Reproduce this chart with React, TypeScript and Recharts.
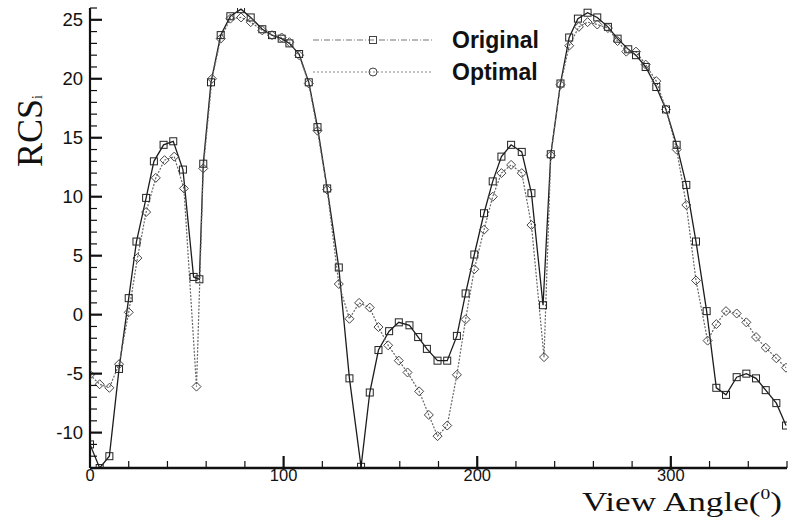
import { LineChart, Line, XAxis, YAxis, Legend, Label } from 'recharts'

// RCS vs view angle
const originalAngle = [
  0, 5, 10, 15, 20, 24, 29, 33, 38, 43, 48, 53.5, 56.5, 58.5, 62.5, 67.5, 72.5, 78, 83, 89,
  94, 99, 103, 108, 113, 117.5, 122.5, 128.5, 134, 140, 144.5, 149, 154.5, 159.5, 165, 169.5, 174, 179.5, 184.5, 189.5,
  194, 198.5, 203.5, 208, 212.5, 217.5, 223, 228, 234, 238, 243, 247.5, 252, 257, 262, 267.5, 272.5, 278, 282, 287,
  292.5, 297.5, 303, 308, 313, 318.5, 323.5, 328.5, 334, 339, 344, 349, 354.5, 359.5,
]
const originalRcs = [
  -11, -13, -12, -4.6, 1.4, 6.2, 9.9, 13, 14.4, 14.7, 12.3, 3.2, 3.0, 12.8, 19.7, 23.7, 25.3, 25.9, 25.2, 24.2,
  23.7, 23.4, 23.0, 22.1, 19.7, 15.9, 10.7, 4.0, -5.4, -12.9, -6.6, -3.0, -1.4, -0.65, -0.9, -1.9, -2.9, -3.9, -3.9, -1.8,
  1.8, 5.1, 8.6, 11.3, 13.4, 14.4, 13.8, 10.3, 0.8, 13.6, 19.6, 23.5, 25.1, 25.6, 25.2, 24.4, 23.4, 22.5, 22.0, 21.0,
  19.3, 17.4, 14.4, 11.0, 6.2, 0.3, -6.2, -6.8, -5.3, -5.0, -5.4, -6.4, -7.5, -9.4,
]

const optimalAngle = [
  0, 5, 10, 15, 20, 24.5, 29, 34, 38.5, 43.5, 48.5, 55, 58.5, 63, 67.5, 72.5, 78, 83, 89, 94,
  99, 103, 108, 113, 117.5, 122.5, 128.5, 134, 139, 144.5, 149, 154, 159.5, 164, 170, 175, 179.5, 184.5, 189.5, 194,
  198.5, 203.5, 208, 212.5, 217.5, 223, 228, 234.5, 238, 243, 247.5, 252.5, 257, 262, 267.5, 272.5, 277, 282, 287, 292.5,
  297.5, 303, 308, 313, 319, 323.5, 328.5, 334, 339, 344, 349, 354.5, 359.5,
]
const optimalRcs = [
  -5.1, -5.9, -6.2, -4.2, 0.2, 4.8, 8.7, 11.6, 13.1, 13.4, 10.7, -6.1, 12.4, 20.0, 23.4, 25.1, 25.2, 24.8, 24.1, 23.7,
  23.5, 23.1, 22.0, 19.6, 15.6, 10.6, 2.6, -0.35, 1.0, 0.6, -1.05, -2.6, -3.9, -4.9, -6.5, -8.5, -10.3, -9.4, -5.1, -0.4,
  3.85, 7.2, 10.0, 12.0, 12.7, 12.0, 7.6, -3.6, 13.5, 19.5, 22.8, 24.4, 24.8, 24.6, 24.3, 23.2, 22.3, 22.3, 21.2, 19.8,
  17.4, 14.0, 9.3, 2.9, -2.2, -0.8, 0.3, 0.1, -0.65, -1.9, -2.8, -3.7, -4.5,
]

const yTicks = Array.from({ length: 40 }, (_, i) => i - 13) // minor every 1
const yLabels = [-10, -5, 0, 5, 10, 15, 20, 25]
const xTicks = Array.from({ length: 19 }, (_, i) => i * 20) // minor every 20
const xLabels = [0, 100, 200, 300]

const originalData = originalAngle.map((angle, i) => ({ angle, rcs: originalRcs[i] }))
const optimalData = optimalAngle.map((angle, i) => ({ angle, rcs: optimalRcs[i] }))

const SANS = "'Liberation Sans', Arial, Helvetica, sans-serif"
const SERIF = "'Liberation Serif', 'Times New Roman', serif"
const INK = '#111'

function YTick({ x, y, payload }: any) {
  const v = payload.value
  const major = v % 5 === 0
  return (
    <g>
      <line x1={x} x2={x + (major ? 12 : 7)} y1={y} y2={y} stroke={INK} strokeWidth={major ? 2.2 : 1.2} />
      {yLabels.includes(v) && (
        <text x={x - 7} y={y} dy={6} textAnchor="end" fontSize={18.5} fontFamily={SANS} fill={INK}>{v}</text>
      )}
    </g>
  )
}

function XTick({ x, y, payload }: any) {
  const v = payload.value
  const major = v % 100 === 0
  return (
    <g>
      {v > 0 && <line x1={x} x2={x} y1={y} y2={y - (major ? 12 : 7)} stroke={INK} strokeWidth={major ? 2.2 : 1.2} />}
      {xLabels.includes(v) && (
        <text x={x} y={y + 13} textAnchor="middle" fontSize={16.5} fontFamily={SANS} fill={INK}>{v}</text>
      )}
    </g>
  )
}

function SquareDot({ cx, cy, index }: any) {
  if (cx == null || cy == null) return <g key={`s${index}`} />
  return <rect key={`s${index}`} x={cx - 3.5} y={cy - 3.5} width={7} height={7} fill="none" stroke="#222" strokeWidth={1} />
}

function DiamondDot({ cx, cy, index }: any) {
  if (cx == null || cy == null) return <g key={`d${index}`} />
  const r = 4.5
  return (
    <path key={`d${index}`} d={`M${cx},${cy - r}L${cx + r},${cy}L${cx},${cy + r}L${cx - r},${cy}Z`}
      fill="none" stroke="#444" strokeWidth={1} />
  )
}

function LegendBox() {
  return (
    <svg width={250} height={60}>
      <line x1={0} x2={119} y1={12} y2={12} stroke="#777" strokeWidth={1.2} strokeDasharray="6 2 1 2" />
      <rect x={56.5} y={8.5} width={7} height={7} fill="none" stroke="#444" />
      <text x={139} y={20} fontSize={23} fontWeight="bold" fontFamily={SANS} fill={INK}>Original</text>
      <line x1={0} x2={119} y1={44} y2={44} stroke="#888" strokeWidth={1.2} strokeDasharray="2 2" />
      <circle cx={60} cy={44} r={4} fill="none" stroke="#444" />
      <text x={139} y={52} fontSize={23} fontWeight="bold" fontFamily={SANS} fill={INK}>Optimal</text>
    </svg>
  )
}

function XTitle({ viewBox }: any) {
  const x = viewBox.x + viewBox.width - 205
  const y = viewBox.y + 43
  return (
    <text x={x} y={y} fontSize={27} fontFamily={SERIF} fill={INK} textLength={200} lengthAdjust="spacingAndGlyphs">
      View Angle(<tspan fontSize={15} dy={-12}>0</tspan><tspan dy={12}>)</tspan>
    </text>
  )
}

function YTitle() {
  return (
    <text x={42} y={131} transform="rotate(-90, 42, 131)" textAnchor="middle" fontSize={36} fontFamily={SERIF} fill={INK}>
      RCS<tspan fontSize={14}>i</tspan>
    </text>
  )
}

export default function App() {
  return (
    <div style={{ position: 'absolute', left: 0, top: 0, width: 789, height: 523, background: '#fff' }}>
      <LineChart width={789} height={523} margin={{ top: 8, right: 2, bottom: 25, left: 30 }}>
        <XAxis
          type="number" dataKey="angle" domain={[0, 360]} ticks={xTicks} interval={0}
          height={30} tickSize={0} tickMargin={0} tickLine={false} tick={<XTick />}
          axisLine={{ stroke: INK, strokeWidth: 2.6 }} allowDataOverflow
        >
          <Label content={<XTitle />} />
        </XAxis>
        <YAxis
          type="number" domain={[-13, 26]} ticks={yTicks} interval={0}
          width={60} tickSize={0} tickMargin={0} tickLine={false} tick={<YTick />}
          axisLine={{ stroke: INK, strokeWidth: 2.2 }} allowDataOverflow
        >
          <Label content={<YTitle />} />
        </YAxis>
        <Legend
          layout="horizontal" verticalAlign="middle" align="center"
          wrapperStyle={{ position: 'absolute', left: 313, top: 28, width: 250, height: 60 }}
          content={<LegendBox />}
        />
        <Line data={originalData} dataKey="rcs" name="Original" stroke="#1c1c1c" strokeWidth={1.3}
          dot={SquareDot} activeDot={false} isAnimationActive={false} />
        <Line data={optimalData} dataKey="rcs" name="Optimal" stroke="#666" strokeWidth={1.2} strokeDasharray="2 1.5"
          dot={DiamondDot} activeDot={false} isAnimationActive={false} />
      </LineChart>
    </div>
  )
}
